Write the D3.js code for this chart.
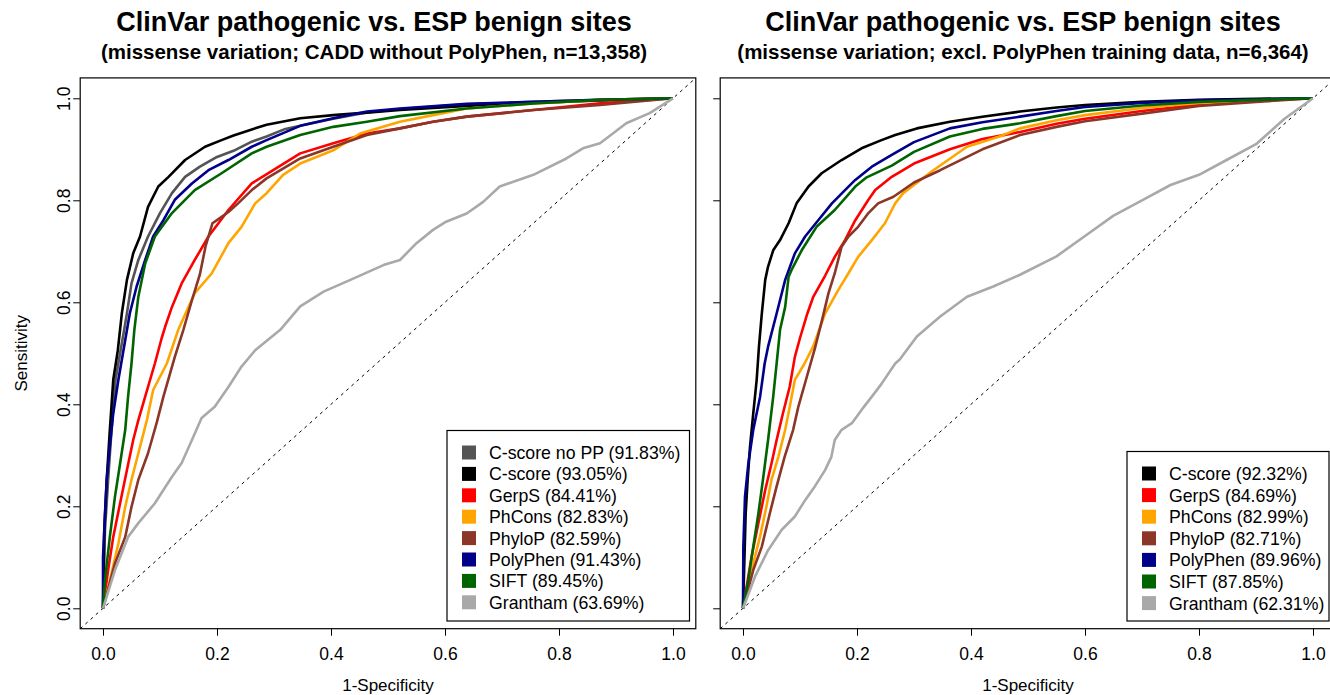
<!DOCTYPE html>
<html>
<head>
<meta charset="utf-8">
<script src="https://cdn.jsdelivr.net/npm/d3@7"></script>
<style>
  body { margin: 0; background: #fff; }
  svg { font-family: "Liberation Sans", Arial, sans-serif; }
</style>
</head>
<body>
<div class="chart"></div>
<script>
// ticks
const xTicks = [0, 0.2, 0.4, 0.6, 0.8, 1.0];
const yTicks = [0, 0.2, 0.4, 0.6, 0.8, 1.0];

// left panel: CADD without PolyPhen
const leftTitle = "ClinVar pathogenic vs. ESP benign sites";
const leftSub = "(missense variation; CADD without PolyPhen, n=13,358)";
const leftNames = ["C-score no PP", "C-score", "GerpS", "PhCons", "PhyloP", "PolyPhen", "SIFT", "Grantham"];
const leftAuc = ["91.83%", "93.05%", "84.41%", "82.83%", "82.59%", "91.43%", "89.45%", "63.69%"];

// [1-specificity, sensitivity]
const leftCscoreNoPP = [[0,0],[0.0035,0.154],[0.009,0.252],[0.015,0.35],[0.022,0.448],[0.032,0.513],[0.042,0.578],[0.050,0.637],[0.062,0.683],[0.079,0.729],[0.100,0.775],[0.121,0.814],[0.144,0.846],[0.170,0.866],[0.200,0.885],[0.229,0.897],[0.261,0.915],[0.287,0.925],[0.320,0.940],[0.346,0.946],[0.404,0.960],[0.463,0.972],[0.521,0.979],[0.638,0.988],[0.755,0.993],[0.872,0.997],[1,1]];
const leftCscore = [[0,0],[0.0023,0.154],[0.0065,0.252],[0.012,0.35],[0.018,0.448],[0.026,0.506],[0.033,0.578],[0.042,0.644],[0.053,0.696],[0.065,0.729],[0.079,0.787],[0.097,0.827],[0.115,0.846],[0.144,0.879],[0.179,0.905],[0.208,0.918],[0.229,0.927],[0.261,0.939],[0.287,0.948],[0.346,0.961],[0.404,0.967],[0.463,0.972],[0.521,0.977],[0.638,0.985],[0.755,0.991],[0.872,0.996],[1,1]];
const leftGerpS = [[0,0],[0.009,0.075],[0.018,0.14],[0.03,0.206],[0.042,0.271],[0.053,0.33],[0.062,0.369],[0.074,0.415],[0.091,0.48],[0.103,0.53],[0.109,0.552],[0.121,0.591],[0.138,0.637],[0.161,0.683],[0.185,0.729],[0.220,0.781],[0.261,0.833],[0.3,0.86],[0.346,0.892],[0.404,0.912],[0.463,0.931],[0.521,0.941],[0.579,0.954],[0.638,0.964],[0.755,0.977],[0.872,0.990],[1,1]];
const leftPhCons = [[0,0],[0.012,0.055],[0.027,0.127],[0.039,0.199],[0.050,0.252],[0.062,0.304],[0.077,0.369],[0.088,0.428],[0.112,0.48],[0.132,0.546],[0.161,0.618],[0.191,0.657],[0.220,0.716],[0.243,0.748],[0.267,0.794],[0.287,0.814],[0.316,0.850],[0.346,0.872],[0.404,0.898],[0.451,0.931],[0.521,0.954],[0.579,0.967],[0.638,0.980],[0.755,0.990],[0.872,0.997],[1,1]];
const leftPhyloP = [[0,0],[0.021,0.088],[0.039,0.14],[0.050,0.199],[0.062,0.252],[0.079,0.304],[0.094,0.363],[0.106,0.415],[0.126,0.493],[0.141,0.546],[0.156,0.604],[0.170,0.655],[0.180,0.71],[0.192,0.755],[0.205,0.765],[0.220,0.777],[0.237,0.794],[0.261,0.820],[0.287,0.843],[0.346,0.882],[0.404,0.905],[0.463,0.928],[0.521,0.941],[0.579,0.954],[0.638,0.964],[0.755,0.977],[0.872,0.987],[1,1]];
const leftPolyPhen = [[0,0],[0,0.1],[0.0035,0.186],[0.0065,0.252],[0.012,0.317],[0.018,0.382],[0.027,0.448],[0.037,0.513],[0.047,0.578],[0.059,0.631],[0.074,0.683],[0.088,0.729],[0.106,0.761],[0.126,0.801],[0.156,0.833],[0.185,0.859],[0.220,0.879],[0.261,0.905],[0.287,0.918],[0.346,0.946],[0.404,0.961],[0.463,0.974],[0.521,0.980],[0.638,0.989],[0.755,0.993],[0.872,0.997],[1,1]];
const leftSift = [[0,0],[0.0035,0.055],[0.012,0.14],[0.021,0.219],[0.030,0.284],[0.039,0.35],[0.044,0.415],[0.050,0.48],[0.055,0.546],[0.062,0.611],[0.074,0.676],[0.091,0.729],[0.121,0.775],[0.161,0.820],[0.208,0.853],[0.261,0.892],[0.287,0.905],[0.346,0.928],[0.404,0.944],[0.463,0.954],[0.521,0.965],[0.638,0.980],[0.755,0.990],[0.872,0.997],[1,1]];
const leftGrantham = [[0,0],[0.021,0.075],[0.044,0.140],[0.062,0.167],[0.091,0.206],[0.121,0.258],[0.138,0.285],[0.156,0.330],[0.173,0.373],[0.196,0.395],[0.220,0.434],[0.243,0.474],[0.267,0.506],[0.311,0.546],[0.346,0.592],[0.387,0.621],[0.434,0.644],[0.492,0.673],[0.521,0.683],[0.550,0.716],[0.579,0.742],[0.602,0.758],[0.638,0.774],[0.667,0.797],[0.696,0.827],[0.755,0.850],[0.813,0.882],[0.842,0.902],[0.872,0.912],[0.918,0.951],[0.959,0.971],[1,1]];

// right panel: excl. PolyPhen training data
const rightTitle = "ClinVar pathogenic vs. ESP benign sites";
const rightSub = "(missense variation; excl. PolyPhen training data, n=6,364)";
const rightNames = ["C-score", "GerpS", "PhCons", "PhyloP", "PolyPhen", "SIFT", "Grantham"];
const rightAuc = ["92.32%", "84.69%", "82.99%", "82.71%", "89.96%", "87.85%", "62.31%"];

const rightCscore = [[0,0],[0.0023,0.088],[0.0047,0.186],[0.0082,0.252],[0.0123,0.317],[0.018,0.382],[0.024,0.448],[0.028,0.513],[0.033,0.578],[0.039,0.644],[0.044,0.670],[0.053,0.702],[0.065,0.722],[0.080,0.755],[0.094,0.794],[0.115,0.827],[0.138,0.853],[0.173,0.879],[0.208,0.902],[0.243,0.918],[0.267,0.928],[0.305,0.941],[0.363,0.954],[0.42,0.964],[0.486,0.974],[0.55,0.982],[0.6,0.987],[0.7,0.993],[0.8,0.997],[0.9,0.999],[1,1]];
const rightGerpS = [[0,0],[0.0064,0.043],[0.015,0.101],[0.027,0.167],[0.039,0.232],[0.050,0.284],[0.059,0.33],[0.070,0.382],[0.082,0.435],[0.091,0.493],[0.100,0.53],[0.112,0.575],[0.123,0.610],[0.144,0.652],[0.161,0.689],[0.179,0.722],[0.197,0.761],[0.220,0.801],[0.232,0.82],[0.261,0.846],[0.3,0.872],[0.363,0.9],[0.42,0.92],[0.486,0.934],[0.55,0.950],[0.6,0.960],[0.7,0.975],[0.8,0.988],[0.9,0.995],[1,1]];
const rightPhCons = [[0,0],[0.018,0.088],[0.030,0.141],[0.041,0.199],[0.050,0.252],[0.062,0.297],[0.074,0.35],[0.082,0.395],[0.091,0.448],[0.108,0.48],[0.123,0.513],[0.144,0.578],[0.167,0.624],[0.185,0.657],[0.202,0.689],[0.226,0.722],[0.249,0.755],[0.267,0.794],[0.281,0.814],[0.334,0.859],[0.393,0.905],[0.45,0.925],[0.486,0.941],[0.55,0.957],[0.6,0.967],[0.7,0.981],[0.8,0.991],[0.9,0.996],[1,1]];
const rightPhyloP = [[0,0],[0.018,0.075],[0.033,0.121],[0.047,0.186],[0.059,0.239],[0.073,0.297],[0.088,0.35],[0.097,0.395],[0.112,0.454],[0.126,0.509],[0.138,0.562],[0.150,0.618],[0.161,0.657],[0.173,0.709],[0.185,0.729],[0.202,0.748],[0.220,0.775],[0.237,0.794],[0.264,0.807],[0.3,0.835],[0.346,0.859],[0.42,0.9],[0.486,0.928],[0.55,0.944],[0.6,0.955],[0.7,0.970],[0.8,0.985],[0.9,0.993],[1,1]];
const rightPolyPhen = [[0,0],[0.0006,0.121],[0.0035,0.219],[0.0094,0.284],[0.018,0.35],[0.030,0.415],[0.038,0.48],[0.044,0.513],[0.059,0.578],[0.074,0.644],[0.091,0.696],[0.109,0.729],[0.132,0.761],[0.156,0.794],[0.179,0.820],[0.197,0.840],[0.226,0.866],[0.261,0.889],[0.3,0.914],[0.363,0.941],[0.42,0.953],[0.486,0.964],[0.55,0.975],[0.6,0.983],[0.7,0.991],[0.8,0.996],[0.9,0.998],[1,1]];
const rightSift = [[0,0],[0.0094,0.056],[0.018,0.121],[0.027,0.186],[0.035,0.252],[0.044,0.33],[0.053,0.415],[0.059,0.48],[0.065,0.546],[0.074,0.591],[0.080,0.650],[0.085,0.663],[0.103,0.702],[0.129,0.748],[0.161,0.781],[0.197,0.827],[0.217,0.845],[0.261,0.868],[0.3,0.895],[0.363,0.925],[0.42,0.94],[0.486,0.951],[0.55,0.965],[0.6,0.975],[0.7,0.986],[0.8,0.993],[0.9,0.997],[1,1]];
const rightGrantham = [[0,0],[0.021,0.062],[0.044,0.114],[0.068,0.154],[0.091,0.18],[0.109,0.212],[0.126,0.239],[0.144,0.271],[0.155,0.297],[0.161,0.33],[0.173,0.35],[0.191,0.363],[0.208,0.389],[0.226,0.415],[0.243,0.44],[0.267,0.48],[0.275,0.488],[0.305,0.533],[0.346,0.572],[0.393,0.611],[0.439,0.631],[0.486,0.654],[0.55,0.69],[0.6,0.73],[0.65,0.77],[0.7,0.80],[0.75,0.83],[0.8,0.85],[0.85,0.88],[0.9,0.91],[0.95,0.96],[1,1]];

const leftColors = ["#545454", "#000000", "#ff0000", "#ffa500", "#8b3626", "#00008b", "#006400", "#a9a9a9"];
const rightColors = ["#000000", "#ff0000", "#ffa500", "#8b3626", "#00008b", "#006400", "#a9a9a9"];

const width = 1330, height = 695;

const svg = d3.select(".chart").append("svg")
    .attr("width", width)
    .attr("height", height);

function drawPanel(p) {
    const x = d3.scaleLinear().domain([-0.04, 1.04]).range([p.left, p.left + 615.6]);
    const y = d3.scaleLinear().domain([-0.04, 1.04]).range([628.7, 77.9]);
    const g = svg.append("g");

    const clipId = "clip" + p.id;
    g.append("clipPath").attr("id", clipId)
      .append("rect")
        .attr("x", x(-0.04)).attr("y", y(1.04))
        .attr("width", x(1.04) - x(-0.04)).attr("height", y(-0.04) - y(1.04));

    const plot = g.append("g").attr("clip-path", `url(#${clipId})`);

    // diagonal reference
    plot.append("line")
        .attr("x1", x(-0.04)).attr("y1", y(-0.04))
        .attr("x2", x(1.04)).attr("y2", y(1.04))
        .attr("stroke", "#000").attr("stroke-width", 1)
        .attr("stroke-dasharray", "3,4");

    const line = d3.line().x(d => x(d[0])).y(d => y(d[1]));

    plot.selectAll("path.roc")
        .data(p.series)
        .join("path")
        .attr("class", "roc")
        .attr("d", line)
        .attr("fill", "none")
        .attr("stroke", (d, i) => p.colors[i])
        .attr("stroke-width", 2.6)
        .attr("stroke-linejoin", "round");

    // box
    g.append("rect")
        .attr("x", x(-0.04)).attr("y", y(1.04))
        .attr("width", x(1.04) - x(-0.04)).attr("height", y(-0.04) - y(1.04))
        .attr("fill", "none").attr("stroke", "#000").attr("stroke-width", 1.2);

    // x axis
    g.append("g")
        .attr("transform", `translate(0,${y(-0.04)})`)
        .call(d3.axisBottom(x).tickValues(xTicks).tickFormat(d3.format(".1f")).tickSize(7))
        .call(a => a.select(".domain").remove())
        .call(a => a.selectAll("line").attr("stroke", "#000"))
        .call(a => a.selectAll("text").attr("y", 31).attr("dy", null)
            .attr("font-size", 17.5).attr("fill", "#000").attr("font-family", null));

    // y axis
    g.append("g")
        .attr("transform", `translate(${x(-0.04)},0)`)
        .call(d3.axisLeft(y).tickValues(yTicks).tickFormat(d3.format(".1f")).tickSize(7))
        .call(a => a.select(".domain").remove())
        .call(a => a.selectAll("line").attr("stroke", "#000"))
        .call(a => a.selectAll("text")
            .attr("x", 0).attr("y", -10).attr("dy", null)
            .attr("transform", "rotate(-90)")
            .attr("text-anchor", "middle")
            .attr("font-size", 17.5).attr("fill", "#000").attr("font-family", null)
            .style("display", p.yLabels ? null : "none"));

    if (p.yLabels) {
        svg.append("text")
            .attr("transform", `translate(27,${(y(0) + y(1)) / 2}) rotate(-90)`)
            .attr("text-anchor", "middle")
            .attr("font-size", 17)
            .text("Sensitivity");
    }

    svg.append("text")
        .attr("x", (x(-0.04) + x(1.04)) / 2).attr("y", 691)
        .attr("text-anchor", "middle").attr("font-size", 17)
        .text("1-Specificity");

    // titles
    svg.append("text")
        .attr("x", p.titleX).attr("y", 31)
        .attr("text-anchor", "middle").attr("font-size", 27).attr("font-weight", "bold")
        .text(p.title);
    svg.append("text")
        .attr("x", p.titleX).attr("y", 59)
        .attr("text-anchor", "middle").attr("font-size", 20.5).attr("font-weight", "bold")
        .text(p.sub);

    // legend
    const lg = svg.append("g");
    lg.append("rect")
        .attr("x", p.legend.x).attr("y", p.legend.y)
        .attr("width", p.legend.w).attr("height", p.legend.h)
        .attr("fill", "#fff").attr("stroke", "#000").attr("stroke-width", 1.2);
    const rows = lg.selectAll("g.row")
        .data(p.names)
        .join("g")
        .attr("class", "row")
        .attr("transform", (d, i) => `translate(${p.legend.x},${p.legend.y + p.legend.top + i * p.legend.step})`);
    rows.append("rect")
        .attr("x", 15).attr("y", -7).attr("width", 14).attr("height", 14)
        .attr("fill", (d, i) => p.colors[i]);
    rows.append("text")
        .attr("x", 42).attr("y", 6.5)
        .attr("font-size", 17.7)
        .text((d, i) => `${d} (${p.auc[i]})`);
}

drawPanel({
    id: "L", left: 80.2, yLabels: true, titleX: 374,
    title: leftTitle, sub: leftSub,
    names: leftNames, auc: leftAuc, colors: leftColors,
    series: [leftCscoreNoPP, leftCscore, leftGerpS, leftPhCons, leftPhyloP, leftPolyPhen, leftSift, leftGrantham],
    legend: { x: 447, y: 430.5, w: 242.5, h: 190.5, top: 22, step: 21.4 }
});

drawPanel({
    id: "R", left: 720.2, yLabels: false, titleX: 1023,
    title: rightTitle, sub: rightSub,
    names: rightNames, auc: rightAuc, colors: rightColors,
    series: [rightCscore, rightGerpS, rightPhCons, rightPhyloP, rightPolyPhen, rightSift, rightGrantham],
    legend: { x: 1127, y: 451.5, w: 202, h: 169.5, top: 22, step: 21.6 }
});
</script>
</body>
</html>
